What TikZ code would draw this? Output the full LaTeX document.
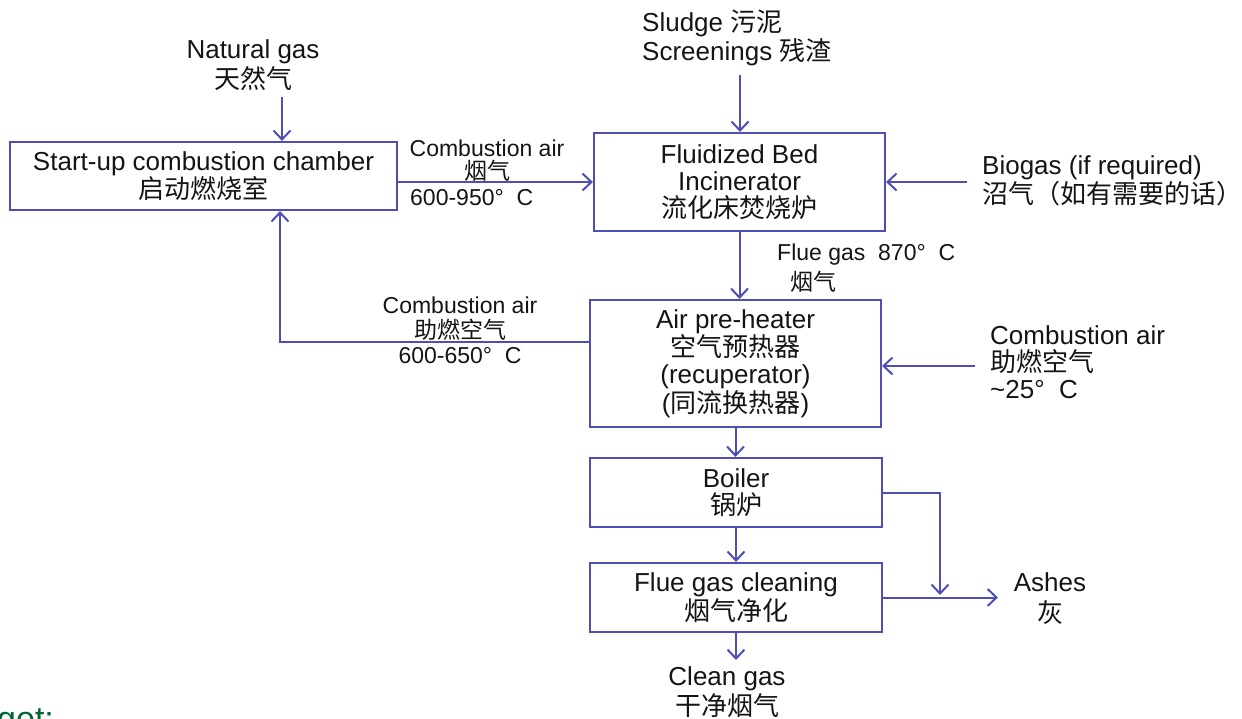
\documentclass[tikz,border=0pt]{standalone}
\usepackage{fontspec}
\setmainfont{Liberation Sans}
\newfontfamily\cjk{Noto Sans CJK SC}
\usetikzlibrary{arrows.meta}
\definecolor{linec}{RGB}{78,78,182}
\definecolor{textc}{RGB}{20,20,20}
\definecolor{greenc}{RGB}{0,100,50}
\begin{document}
\begin{tikzpicture}[x=1pt,y=-1pt,
  box/.style={draw=linec, line width=2.1pt, inner sep=0pt},
  big/.style={font=\fontsize{26}{27}\selectfont, align=center, text=textc, inner sep=0pt},
  small/.style={font=\fontsize{23}{23}\selectfont, align=center, text=textc, inner sep=0pt},
  flow/.style={draw=linec, line width=2pt, -{Straight Barb[length=9pt,width=17pt,line width=2pt]}},
  plain/.style={draw=linec, line width=2pt}]
\useasboundingbox (0,0) rectangle (1242,719);

% boxes
\node[box, minimum width=387pt, minimum height=68pt] (b1) at (203.5,176) {};
\node[big] (t1) at (b1.center) {Start-up combustion chamber\\{\cjk 启动燃烧室}};
\node[box, minimum width=291pt, minimum height=98pt] (b2) at (739.5,182) {};
\node[big] (t2) at (b2.center) {Fluidized Bed\\Incinerator\\{\cjk 流化床焚烧炉}};
\node[box, minimum width=291pt, minimum height=127pt] (b3) at (735.5,363.5) {};
\node[big] (t3) at (b3.center) {Air pre-heater\\{\cjk 空气预热器}\\(recuperator)\\({\cjk 同流换热器})};
\node[box, minimum width=292pt, minimum height=69pt] (b4) at (736,492.5) {};
\node[big] (t4) at (b4.center) {Boiler\\{\cjk 锅炉}};
\node[box, minimum width=292pt, minimum height=69pt] (b5) at (736,597.5) {};
\node[big] (t5) at (b5.center) {Flue gas cleaning\\{\cjk 烟气净化}};

% free labels
\node[big, font=\fontsize{26}{30}\selectfont] (ng) at (253,65) {Natural gas\\{\cjk 天然气}};
\node[big, font=\fontsize{26}{29}\selectfont, align=left, anchor=west] (sl) at (642,37.5) {Sludge {\cjk 污泥}\\Screenings {\cjk 残渣}};
\node[small] (ca1) at (487,161) {Combustion air\\{\cjk 烟气}};
\node[small, anchor=west] (ca1t) at (410,198) {600-950°\ \ C};
\node[small, anchor=west] (fg) at (777,255) {Flue gas\ \ 870°\ \ C};
\node[small] (fgc) at (813,282) {{\cjk 烟气}};
\node[small, font=\fontsize{23}{25}\selectfont] (ca2) at (460,330) {Combustion air\\{\cjk 助燃空气}\\600-650°\ \ C};
\node[big, font=\fontsize{26}{25}\selectfont, align=left, anchor=west] (bg) at (982,181) {Biogas (if required)\\{\cjk 沼气（如有需要的话）}};
\node[big, align=left, anchor=west] (ca3) at (990,362) {Combustion air\\{\cjk 助燃空气}\\\textasciitilde 25°\ \ C};
\node[big, font=\fontsize{26}{31}\selectfont] (ash) at (1050,599) {Ashes\\{\cjk 灰}};
\node[big, font=\fontsize{26}{30}\selectfont] (cg) at (727,692) {Clean gas\\{\cjk 干净烟气}};
\node[font=\fontsize{34}{34}\selectfont, text=greenc, anchor=base west, inner sep=0pt] (tg) at (-3,730) {get:};

% free ends
\coordinate (ngs) at (282,97);
\coordinate (sls) at (740,75);
\coordinate (bgs) at (967,182);
\coordinate (cas) at (975,366);
\coordinate (jn) at (940,595);
\coordinate (ae) at (998,597.5);
\coordinate (ce) at (736,660);

% connectors
\draw[flow] (ngs) -- (ngs |- b1.north);
\draw[flow] (sls) -- (sls |- b2.north);
\draw[flow] (b2.west -| b1.east) -- (b2.west);
\draw[flow] (bgs) -- (bgs -| b2.east);
\draw[flow] (b2.south) -- (b2.south |- b3.north);
\draw[flow] ([yshift=21.5pt]b3.west) -| ([xshift=76.5pt]b1.south);
\draw[flow] (cas) -- (cas -| b3.east);
\draw[flow] (b3.south) -- (b3.south |- b4.north);
\draw[flow] (b4.south) -- (b4.south |- b5.north);
\draw[flow] (b4.east) -| (jn);
\draw[flow] (b5.east) -- (ae);
\draw[flow] (b5.south) -- (ce);
\end{tikzpicture}
\end{document}
